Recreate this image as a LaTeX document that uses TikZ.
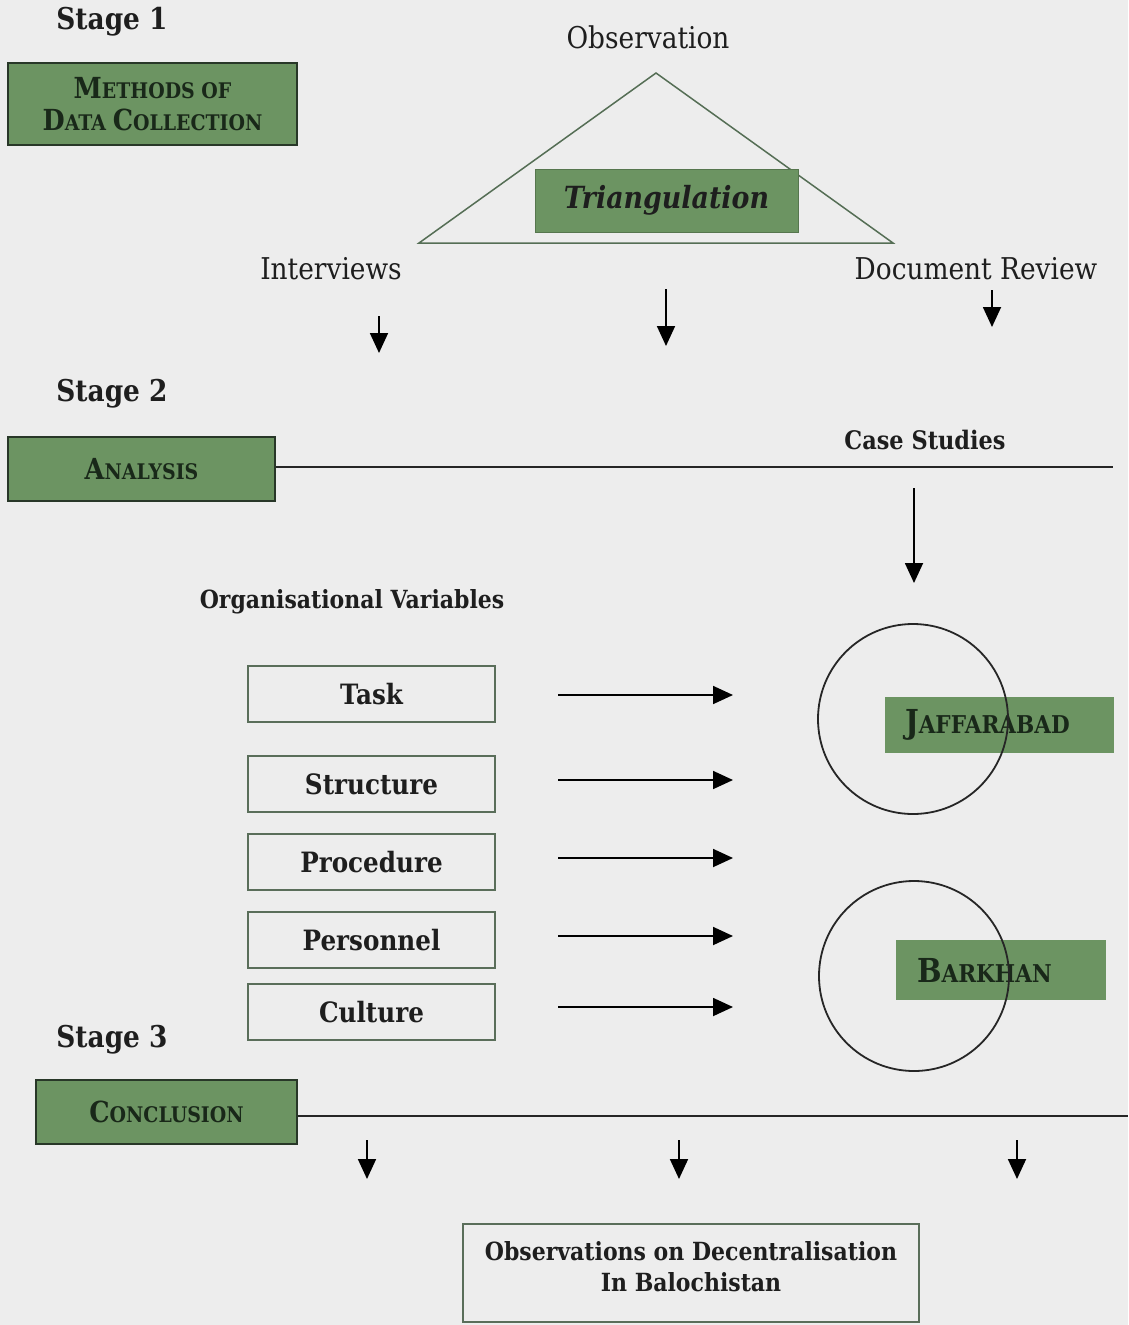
\documentclass[tikz,border=0pt]{standalone}
\usepackage{fontspec}
\setmainfont{DejaVu Serif}[FakeStretch=0.88]
\usetikzlibrary{arrows.meta}

\definecolor{paper}{RGB}{237,237,237}
\definecolor{boxgreen}{RGB}{108,148,98}
\definecolor{boxedge}{RGB}{40,55,40}
\definecolor{greenink}{RGB}{25,40,25}
\definecolor{ink}{RGB}{30,30,30}
\definecolor{thinedge}{RGB}{90,110,90}
\definecolor{triedge}{RGB}{85,110,85}

% font size helper
\newcommand{\fsz}[1]{\fontsize{#1}{#1}\selectfont}
% large initial letter for the hand-made small capitals
\newcommand{\Cap}[1]{{\fsz{29}#1}}
\newcommand{\BigCap}[1]{{\fsz{33}#1}}

\tikzset{
  stagelabel/.style={text=ink, font=\fsz{30}\bfseries, inner sep=0pt},
  plainlabel/.style={text=ink, font=\fsz{30}, inner sep=0pt},
  boldlabel/.style={text=ink, font=\fsz{25.5}\bfseries, inner sep=0pt},
  greenbox/.style={draw=boxedge, line width=2.5pt, fill=boxgreen, text=greenink,
    font=\fsz{21.5}\bfseries, align=center, inner sep=0pt},
  sitebox/.style={fill=boxgreen, text=greenink, font=\fsz{24.5}\bfseries,
    align=left, inner xsep=20pt, inner ysep=0pt},
  varbox/.style={draw=thinedge, line width=1.5pt, text=ink, font=\fsz{28}\bfseries,
    minimum width=247pt, minimum height=56pt, inner sep=0pt},
  flow/.style={draw=black, line width=1.8pt, -{Triangle[length=20pt,width=18pt]}},
  ring/.style={circle, draw=black!85, line width=1.8pt, minimum size=190pt, inner sep=0pt},
}

\begin{document}
\begin{tikzpicture}[x=1pt, y=-1pt]
  \fill[paper] (0,0) rectangle (1128,1325);
  \useasboundingbox (0,0) rectangle (1128,1325);

  % ---------------- Stage 1 ----------------
  \node[stagelabel] (stage1) at (112,22) {Stage 1};
  \node[greenbox, minimum width=289pt, minimum height=82pt] (methods) at (152.5,104)
    {\Cap{M}ETHODS OF\\[9pt] \Cap{D}ATA \Cap{C}OLLECTION};

  \node[plainlabel] (obs) at (648,37) {Observation};
  \coordinate (apex) at (656,73);
  \coordinate (baseL) at (419,243);
  \coordinate (baseR) at (893,243);
  \draw[triedge, line width=1.5pt, line join=miter] (apex) -- (baseL) -- (baseR) -- cycle;
  \node[fill=boxgreen, draw=boxgreen!80!black, line width=0.6pt, text=ink,
        minimum width=263pt, minimum height=63pt, inner sep=0pt,
        font=\fsz{30.5}\bfseries\itshape] (triang) at (666.5,200.5) {Triangulation};

  \node[plainlabel] (interviews) at (331,269) {Interviews};
  \node[plainlabel] (docrev) at (976,269) {Document Review};

  \coordinate (d1s) at (379,316); \coordinate (d1e) at (379,353);
  \coordinate (d2s) at (666,289); \coordinate (d2e) at (666,346);
  \coordinate (d3s) at (992,290); \coordinate (d3e) at (992,327);
  \draw[flow] (d1s) -- (d1e);
  \draw[flow] (d2s) -- (d2e);
  \draw[flow] (d3s) -- (d3e);

  % ---------------- Stage 2 ----------------
  \node[stagelabel] (stage2) at (112,394) {Stage 2};
  \node[greenbox, minimum width=267pt, minimum height=64pt] (analysis) at (141.5,469)
    {\Cap{A}NALYSIS};
  \coordinate (aline) at (1113,467);
  \draw[black!85, line width=1.6pt] (analysis.east |- aline) -- (aline);

  \node[boldlabel] (cases) at (925,440) {Case Studies};
  \coordinate (csS) at (914,488); \coordinate (csE) at (914,583);
  \draw[flow] (csS) -- (csE);

  \node[boldlabel, font=\fsz{25}\bfseries] (orgvars) at (352,602) {Organisational Variables};

  \node[varbox] (task)   at (371.5,694)  {Task};
  \node[varbox] (struct) at (371.5,784)  {Structure};
  \node[varbox] (proc)   at (371.5,862)  {Procedure};
  \node[varbox] (pers)   at (371.5,940)  {Personnel};
  \node[varbox] (cult)   at (371.5,1012) {Culture};

  \foreach \y/\n in {695/a, 780/b, 858/c, 936/d, 1007/e}{
    \coordinate (v\n s) at (558,\y);
    \coordinate (v\n e) at (733,\y);
    \draw[flow] (v\n s) -- (v\n e);
  }

  \node[sitebox, text width=189pt, minimum height=56pt] (jaff) at (999.5,725)
    {\BigCap{J}AFFARABAD};
  \node[sitebox, inner xsep=21pt, text width=168pt, minimum height=60pt] (bark) at (1001,970)
    {\BigCap{B}ARKHAN};
  \node[ring] (ringJ) at (913,719) {};
  \node[ring] (ringB) at (914,976) {};

  % ---------------- Stage 3 ----------------
  \node[stagelabel] (stage3) at (112,1040) {Stage 3};
  \node[greenbox, minimum width=261pt, minimum height=64pt] (conclusion) at (166.5,1112)
    {\Cap{C}ONCLUSION};
  \coordinate (cline) at (1128,1116);
  \draw[black!85, line width=1.6pt] (conclusion.east |- cline) -- (cline);

  \coordinate (e1s) at (367,1140); \coordinate (e1e) at (367,1179);
  \coordinate (e2s) at (679,1140); \coordinate (e2e) at (679,1179);
  \coordinate (e3s) at (1017,1140); \coordinate (e3e) at (1017,1179);
  \draw[flow] (e1s) -- (e1e);
  \draw[flow] (e2s) -- (e2e);
  \draw[flow] (e3s) -- (e3e);

  \node[draw=thinedge, line width=1.5pt, minimum width=456pt, minimum height=98pt,
        inner sep=0pt] (result) at (691,1273) {};
  \node[text=ink, font=\fsz{25}\bfseries, align=center, inner sep=0pt] (resulttext)
    at (691,1267) {Observations on Decentralisation\\[6pt] In Balochistan};
\end{tikzpicture}
\end{document}
